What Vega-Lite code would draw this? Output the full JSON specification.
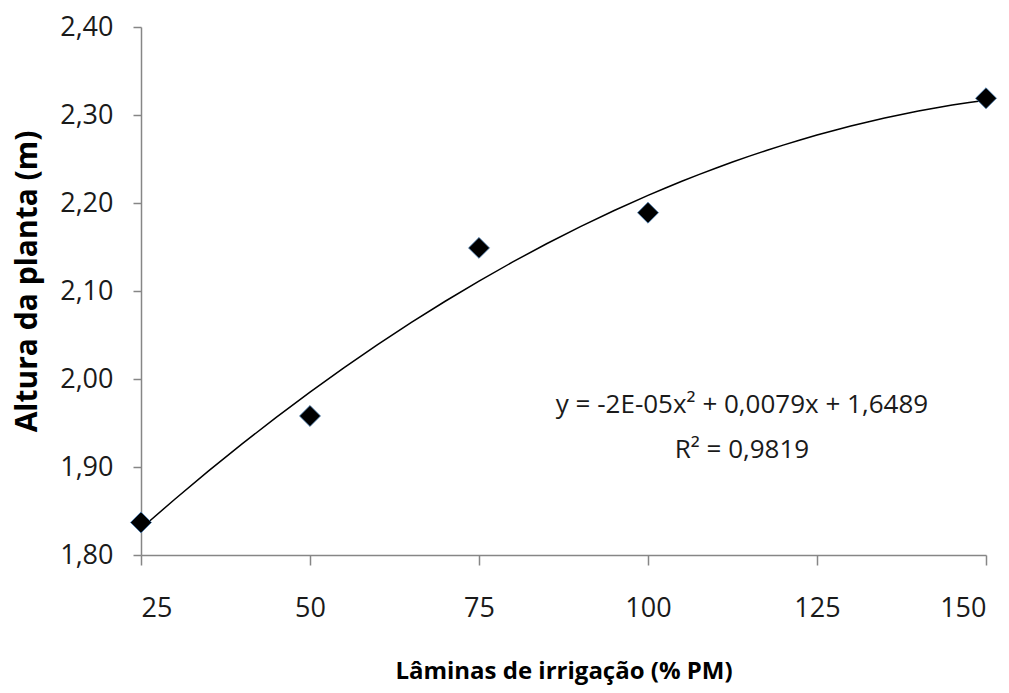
{
  "$schema": "https://vega.github.io/schema/vega-lite/v6.json",
  "width": 845,
  "height": 528,
  "autosize": "none",
  "padding": {"left": 141, "top": 27, "right": 23, "bottom": 138},
  "background": "white",
  "config": {
    "view": {"stroke": null},
    "font": "Open Sans",
    "axis": {
      "domainColor": "#868686",
      "tickColor": "#868686",
      "domainWidth": 1.5,
      "tickWidth": 1.5,
      "grid": false,
      "labelColor": "#1a1a1a",
      "titleColor": "#000000",
      "labelFont": "Open Sans",
      "titleFont": "Open Sans"
    }
  },
  "data": {
    "values": [
      {"x": 25, "y": 1.837},
      {"x": 50, "y": 1.958},
      {"x": 75, "y": 2.149},
      {"x": 100, "y": 2.189},
      {"x": 150, "y": 2.319}
    ]
  },
  "layer": [
    {
      "transform": [
        {"regression": "y", "on": "x", "method": "poly", "order": 2, "extent": [25, 150]}
      ],
      "mark": {"type": "line", "color": "#000000", "strokeWidth": 1.5},
      "encoding": {
        "x": {"field": "x", "type": "quantitative"},
        "y": {"field": "y", "type": "quantitative"}
      }
    },
    {
      "mark": {"type": "point", "shape": "diamond", "filled": true, "size": 440, "color": "#000000", "stroke": "#4a7fb5", "strokeWidth": 0.8, "opacity": 1},
      "encoding": {
        "x": {
          "field": "x",
          "type": "quantitative",
          "scale": {"domain": [25, 150], "nice": false, "zero": false},
          "axis": {
            "values": [25, 50, 75, 100, 125, 150],
            "title": "Lâminas de irrigação (% PM)",
            "titleFontSize": 24,
            "titleFontWeight": "bold",
            "titlePadding": 38,
            "labelFontSize": 27,
            "labelPadding": 30,
            "tickSize": 10
          }
        },
        "y": {
          "field": "y",
          "type": "quantitative",
          "scale": {"domain": [1.8, 2.4], "nice": false, "zero": false},
          "axis": {
            "values": [1.8, 1.9, 2.0, 2.1, 2.2, 2.3, 2.4],
            "labelExpr": "replace(format(datum.value, '.2f'), '.', ',')",
            "title": "Altura da planta (m)",
            "titleFontSize": 30,
            "titleFontWeight": "bold",
            "titlePadding": 17,
            "titleY": 254,
            "labelFontSize": 27,
            "labelPadding": 20,
            "tickSize": 8
          }
        }
      }
    },
    {
      "data": {
        "values": [
          {"x": 113.9, "y": 1.970, "label": "y = -2E-05x² + 0,0079x + 1,6489"},
          {"x": 113.9, "y": 1.919, "label": "R² = 0,9819"}
        ]
      },
      "mark": {"type": "text", "fontSize": 26, "color": "#1a1a1a", "align": "center", "baseline": "middle"},
      "encoding": {
        "x": {"field": "x", "type": "quantitative"},
        "y": {"field": "y", "type": "quantitative"},
        "text": {"field": "label"}
      }
    }
  ]
}
